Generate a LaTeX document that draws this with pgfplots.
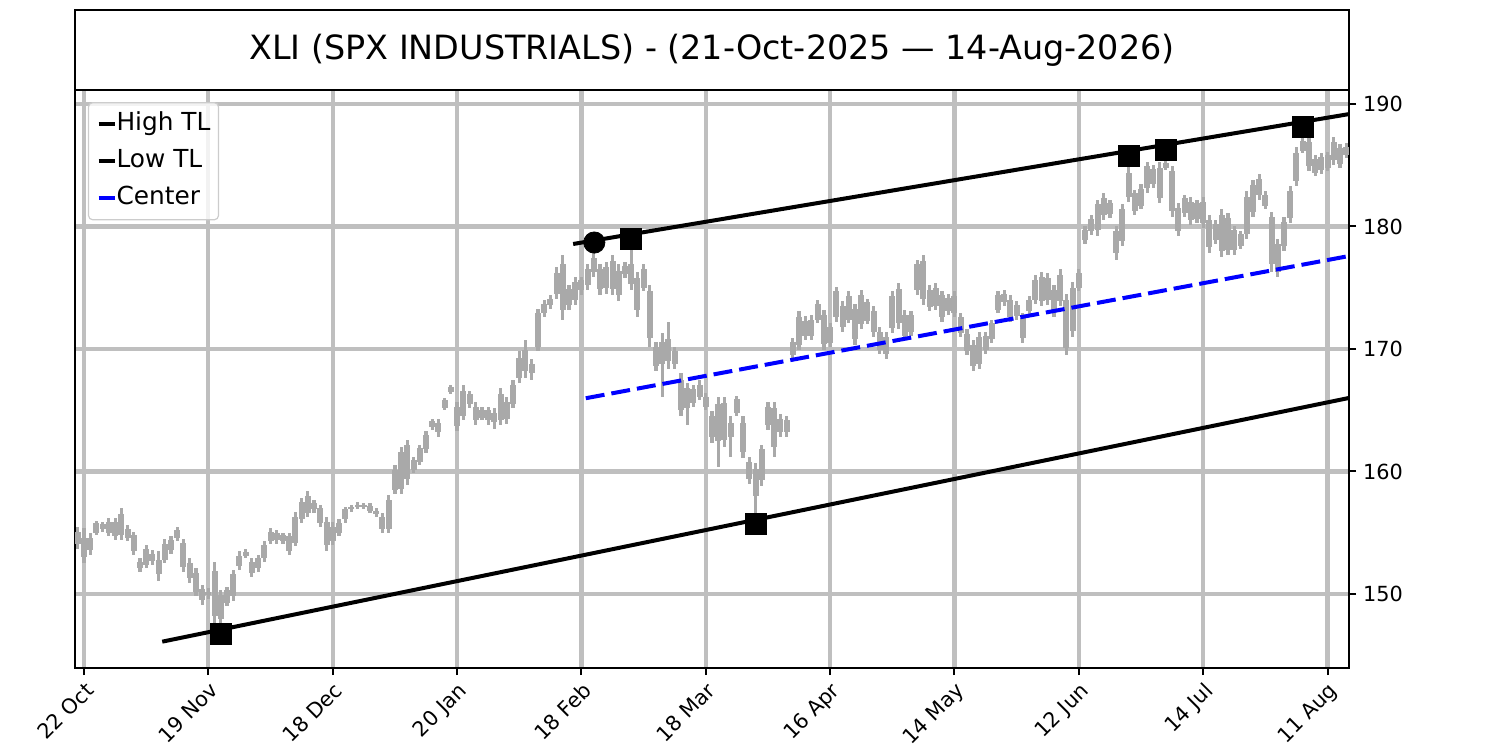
\documentclass[border=0pt]{standalone}
\usepackage{fontspec}
\setmainfont{DejaVu Sans}
\usepackage{pgfplots}
\usepackage{pgfplotstable}
\pgfplotsset{compat=1.18}
\definecolor{barcol}{HTML}{A9A9A9}
\definecolor{gridcol}{HTML}{BFBFBF}
\definecolor{legcol}{HTML}{CCCCCC}
\pgfplotstableread{
i L H O C
0 153.7 155.5 155.1 154.1
1 152.5 155.4 154.6 153.0
2 153.2 155.0 153.6 154.6
3 154.8 156.0 155.0 155.8
4 155.1 155.9 155.7 155.3
5 154.7 156.2 155.0 155.9
6 154.4 156.2 155.9 154.7
7 154.4 157.0 154.8 156.5
8 154.3 155.6 155.3 154.6
9 153.2 155.1 154.8 153.5
10 151.8 152.9 152.1 152.6
11 152.1 154.0 152.4 153.7
12 152.4 153.6 153.3 152.7
13 151.1 153.5 152.8 151.6
14 152.5 154.5 152.8 154.1
15 153.3 154.7 153.6 154.4
16 154.3 155.5 154.6 155.2
17 151.8 154.5 154.2 152.2
18 150.9 152.9 152.5 151.3
19 149.8 152.1 151.7 150.2
20 149.1 150.7 150.4 149.5
21 149.6 150.5 149.9 150.2
22 147.6 152.6 151.9 148.2
23 147.6 150.3 148.0 149.9
24 149.0 150.6 149.3 150.3
25 149.4 152.0 149.8 151.6
26 152.0 153.5 152.3 153.1
27 152.9 153.7 153.4 153.1
28 151.4 152.9 152.6 151.7
29 151.8 153.2 152.1 152.9
30 152.6 154.3 152.9 154.0
31 154.1 155.4 154.3 155.1
32 154.1 155.2 155.0 154.4
33 154.1 155.0 154.3 154.8
34 153.2 155.0 154.7 153.5
35 153.9 156.7 154.2 156.3
36 155.8 157.8 156.1 157.5
37 156.3 158.4 156.6 158.0
38 156.6 157.7 157.4 156.9
39 155.5 157.3 157.0 155.8
40 153.5 156.3 155.9 154.0
41 154.0 155.9 154.3 155.5
42 154.7 156.1 155.0 155.8
43 155.8 157.1 156.1 156.9
44 156.7 157.3 156.9 157.1
45 156.9 157.5 157.1 157.3
46 156.9 157.4 157.3 157.1
47 156.6 157.4 157.2 156.8
48 156.3 157.0 156.8 156.5
49 155.0 156.6 156.3 155.3
50 155.0 158.1 155.3 157.7
51 158.2 160.5 158.5 160.1
52 158.2 162.0 158.6 161.6
53 158.9 162.6 162.2 159.4
54 159.9 161.2 160.1 160.9
55 160.5 162.2 160.8 161.9
56 161.5 163.3 161.8 163.0
57 163.4 164.3 163.6 164.1
58 162.8 164.3 164.0 163.2
59 165.0 166.0 165.2 165.8
60 166.3 167.1 166.5 166.9
61 163.3 165.7 165.3 163.7
62 164.2 167.1 164.5 166.6
63 165.2 166.6 166.3 165.5
64 163.8 165.7 165.3 164.2
65 164.2 165.3 164.4 165.0
66 163.8 165.3 165.0 164.2
67 163.5 165.2 164.0 164.8
68 163.8 166.8 164.2 166.3
69 163.9 166.1 165.7 164.3
70 165.2 167.5 165.5 167.1
71 167.2 169.8 167.6 169.3
72 167.6 170.7 169.9 168.2
73 167.5 169.2 168.0 168.8
74 169.8 173.3 170.2 172.9
75 172.6 174.0 172.9 173.7
76 173.3 174.4 173.6 174.1
77 174.1 176.7 174.5 176.2
78 172.4 177.7 176.9 173.2
79 173.2 175.2 173.6 174.9
80 173.6 175.9 174.0 175.5
81 174.4 175.9 174.8 175.6
82 174.8 176.9 175.2 176.5
83 175.9 177.8 176.3 177.4
84 174.4 176.9 176.5 174.9
85 174.5 177.1 175.0 176.7
86 174.4 177.7 177.2 174.9
87 173.9 176.9 174.4 176.4
88 175.8 177.1 176.1 176.8
89 174.8 178.1 176.9 175.3
90 172.6 176.3 175.8 173.2
91 174.7 176.9 175.0 176.5
92 170.2 175.2 174.7 170.9
93 168.2 170.6 170.2 168.6
94 166.1 171.3 168.8 170.6
95 168.4 172.2 170.8 169.0
96 168.4 170.2 169.8 168.8
97 164.5 168.0 167.5 165.0
98 163.8 167.2 165.2 166.8
99 165.3 167.1 166.7 165.6
100 165.8 167.5 166.1 167.1
101 165.0 166.4 166.1 165.3
102 162.3 164.9 164.5 162.8
103 160.4 166.1 162.5 165.5
104 162.0 166.1 165.6 162.6
105 161.2 164.5 162.8 164.0
106 164.5 166.2 164.8 165.9
107 161.1 164.5 164.0 161.6
108 159.0 161.2 160.8 159.4
109 156.6 160.7 158.0 160.2
110 158.8 162.2 159.3 161.8
111 163.4 165.7 163.8 165.3
112 161.2 165.7 165.2 162.0
113 162.8 164.7 163.2 164.3
114 162.8 164.5 164.2 163.2
115 169.2 170.9 169.5 170.6
116 169.9 173.1 170.3 172.6
117 170.7 172.7 172.3 171.1
118 170.7 172.8 171.1 172.4
119 172.1 174.0 172.4 173.7
120 169.9 173.2 172.8 170.4
121 170.2 172.1 170.5 171.8
122 172.2 175.1 172.6 174.7
123 171.4 173.9 173.5 171.8
124 172.1 174.7 172.4 174.3
125 170.3 173.7 173.3 170.8
126 171.6 174.8 172.0 174.4
127 172.0 174.1 173.8 172.3
128 171.0 173.5 173.1 171.4
129 169.6 171.8 171.4 169.9
130 169.2 171.4 169.6 171.0
131 171.3 174.7 171.7 174.3
132 171.6 175.4 174.9 172.1
133 170.7 173.2 172.8 171.1
134 171.1 173.1 171.4 172.8
135 174.4 177.3 174.8 176.9
136 173.6 177.7 177.2 174.1
137 173.1 175.2 174.8 173.4
138 173.2 175.4 173.5 175.0
139 172.2 174.7 174.4 172.6
140 172.8 174.5 173.1 174.2
141 172.6 174.7 174.3 172.9
142 171.0 172.9 172.6 171.3
143 169.5 171.6 171.2 169.8
144 168.2 170.7 170.3 168.6
145 168.4 171.4 168.8 171.0
146 169.6 171.4 171.1 169.9
147 170.5 172.4 170.8 172.1
148 172.9 174.7 173.2 174.4
149 173.5 174.8 174.5 173.8
150 172.2 174.4 174.0 172.6
151 172.4 173.9 172.7 173.6
152 170.5 172.9 172.5 170.9
153 172.8 174.3 173.1 174.0
154 173.7 176.0 174.0 175.6
155 173.5 176.3 175.9 173.9
156 173.6 176.2 174.0 175.8
157 172.6 175.2 174.8 173.0
158 173.5 176.5 173.9 176.0
159 169.5 174.5 174.0 170.1
160 171.0 175.5 171.5 175.0
161 174.7 176.5 175.0 176.2
162 178.6 180.0 178.9 179.7
163 179.3 180.9 179.6 180.6
164 179.2 182.2 181.8 179.7
165 180.5 182.7 180.9 182.3
166 180.7 182.2 181.9 181.0
167 177.3 180.0 179.6 177.8
168 178.4 181.8 178.8 181.4
169 182.0 184.9 182.4 184.4
170 180.9 183.0 182.7 181.3
171 181.4 183.5 181.7 183.1
172 182.7 185.3 183.1 184.9
173 183.1 185.0 184.7 183.5
174 181.9 185.3 182.3 184.8
175 184.6 185.4 184.8 185.2
176 180.8 184.9 184.5 181.3
177 179.2 181.9 181.5 179.6
178 180.8 182.6 181.1 182.3
179 180.1 182.4 182.0 180.5
180 180.3 182.2 180.6 181.9
181 179.9 182.4 182.0 180.3
182 177.8 180.9 180.5 178.3
183 178.6 180.5 178.9 180.2
184 177.5 181.4 180.9 178.0
185 177.7 181.1 178.1 180.7
186 177.7 180.0 179.7 178.1
187 178.2 179.6 178.4 179.4
188 179.0 182.9 179.4 182.4
189 180.8 183.8 181.2 183.4
190 182.2 184.3 183.9 182.6
191 181.4 182.9 182.6 181.7
192 176.3 181.2 180.8 176.9
193 175.9 179.0 176.3 178.6
194 178.0 180.8 178.4 180.4
195 180.3 183.3 180.7 182.9
196 183.3 186.5 183.7 186.0
197 186.0 187.3 186.2 187.0
198 184.5 187.3 186.9 184.9
199 184.1 185.8 184.4 185.5
200 184.3 186.0 185.7 184.6
201 184.5 186.1 184.8 185.8
202 185.0 187.3 185.4 186.9
203 184.8 186.7 186.4 185.1
204 185.6 186.8 185.8 186.5
}\bars
\begin{document}
\begin{tikzpicture}
\path[use as bounding box] (-37.5pt,-41pt) rectangle (712.5pt,334pt);
\begin{axis}[
  at={(0pt,0pt)}, anchor=south west,
  width=637pt, height=289pt, scale only axis,
  xmin=-0.45, xmax=204.45, ymin=143.96, ymax=191.14,
  xtick={1,21,41,61,81,101,121,141,161,181,201},
  xticklabels={22 Oct,19 Nov,18 Dec,20 Jan,18 Feb,18 Mar,16 Apr,14 May,12 Jun,14 Jul,11 Aug},
  ytick={150,160,170,180,190},
  xtick pos=bottom, ytick pos=right, yticklabel pos=right,
  tick align=outside,
  major tick length=3.5pt,
  tick style={line width=1pt, black},
  axis line style={line width=1pt, black},
  grid=major,
  major grid style={line width=2.1pt, gridcol},
  tick label style={font=\fontsize{10.4}{12}\selectfont},
  xticklabel style={rotate=45, anchor=north east, inner sep=2pt},
  /pgf/number format/assume math mode=true,
  legend cell align=left,
  legend image code/.code={\draw[#1] (0pt,0pt) -- (8pt,0pt);},
  legend style={at={(0.0102,0.979)}, anchor=north west, draw=legcol,
    line width=0.6pt, fill=white, fill opacity=0.8, text opacity=1,
    rounded corners=2pt, font=\fontsize{12.4}{14}\selectfont,
    inner xsep=4pt, inner ysep=1.5pt,
    nodes={inner xsep=0pt, inner ysep=3.3pt, text height=9.3pt, text depth=2.6pt}},
]
\addplot[draw=none, mark=none, forget plot,
  error bars/.cd, y dir=both, y explicit, error mark=none,
  error bar style={draw=barcol, line width=1.6pt}]
  table[x=i, y expr={(\thisrow{H}+\thisrow{L})/2}, y error expr={(\thisrow{H}-\thisrow{L})/2}] {\bars};
\addplot[draw=none, mark=none, forget plot,
  error bars/.cd, y dir=both, y explicit, error mark=none,
  error bar style={draw=barcol, line width=3pt}]
  table[x=i, y expr={(\thisrow{O}+\thisrow{C})/2}, y error expr={abs(\thisrow{O}-\thisrow{C})/2}] {\bars};
\addplot[black, line width=2pt] coordinates {(79.67,178.57) (205,189.22)};
\addlegendentry{High TL}
\addplot[black, line width=2pt] coordinates {(13.58,146.11) (205,166.06)};
\addlegendentry{Low TL}
\addplot[blue, line width=2pt, dash pattern=on 9.5pt off 3.5pt] coordinates {(81.7,165.98) (205,177.64)};
\addlegendentry{Center}
\addplot[only marks, mark=square*, mark size=5.2pt, black, forget plot]
  coordinates {(23,146.73) (89,179.0) (109,155.71) (169,185.77) (175,186.24) (197,188.15)};
\addplot[only marks, mark=*, mark size=5.3pt, black, forget plot]
  coordinates {(83.07,178.69)};
\end{axis}
\draw[line width=1pt] (0pt,289pt) rectangle (637pt,329pt);
\node[font=\fontsize{16.7}{20}\selectfont] at (318.5pt,309pt) {XLI (SPX INDUSTRIALS) - (21-Oct-2025 — 14-Aug-2026)};
\end{tikzpicture}
\end{document}
